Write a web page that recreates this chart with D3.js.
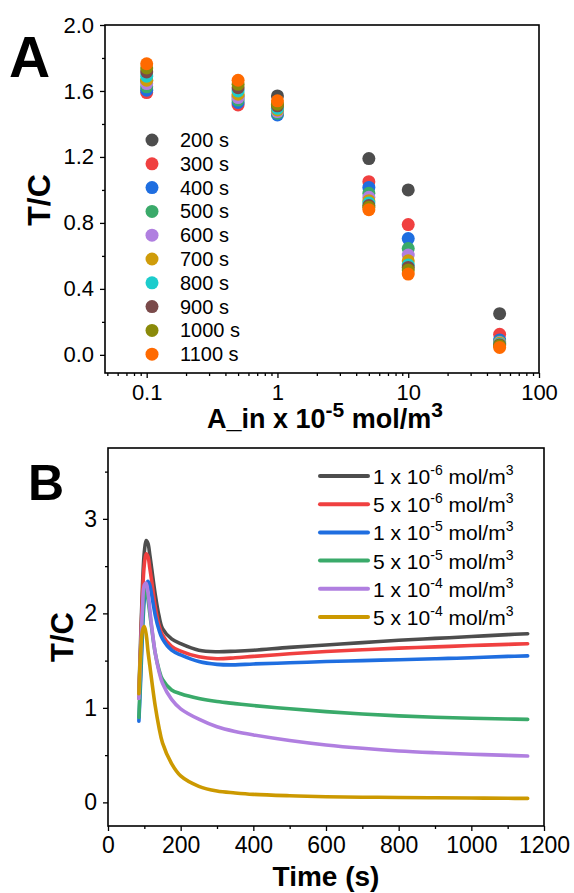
<!DOCTYPE html>
<html>
<head>
<meta charset="utf-8">
<script src="https://cdn.jsdelivr.net/npm/d3@7"></script>
<style>
  body { margin: 0; background: #fff; }
  svg { display: block; font-family: "Liberation Sans", Arial, sans-serif; }
</style>
</head>
<body>
<svg id="fig" width="574" height="893"></svg>
<script>
// ---- panel A data: T/C vs inlet concentration, one series per time ----
var concA = [0.1, 0.5, 1, 5, 10, 50];
var timesA = ["200 s", "300 s", "400 s", "500 s", "600 s", "700 s", "800 s", "900 s", "1000 s", "1100 s"];
var colorsA = ["#4d4d4d", "#f04040", "#1f6ee0", "#3aaa6a", "#b07fe0", "#cf9c0a", "#1ccccc", "#7a4a4a", "#8a8a0a", "#ff6a00"];
var tc200 = [1.66, 1.57, 1.57, 1.19, 1.00, 0.25];
var tc300 = [1.59, 1.515, 1.48, 1.05, 0.79, 0.125];
var tc400 = [1.605, 1.53, 1.455, 1.015, 0.705, 0.09];
var tc500 = [1.625, 1.545, 1.465, 0.98, 0.645, 0.08];
var tc600 = [1.645, 1.56, 1.475, 0.955, 0.605, 0.075];
var tc700 = [1.665, 1.58, 1.485, 0.935, 0.57, 0.07];
var tc800 = [1.69, 1.60, 1.495, 0.92, 0.545, 0.065];
var tc900 = [1.715, 1.62, 1.51, 0.905, 0.53, 0.06];
var tc1000 = [1.74, 1.64, 1.52, 0.895, 0.515, 0.055];
var tc1100 = [1.765, 1.665, 1.54, 0.88, 0.49, 0.045];
var seriesA = [tc200, tc300, tc400, tc500, tc600, tc700, tc800, tc900, tc1000, tc1100];

// ---- panel B data: T/C vs time, one curve per concentration ----
var timeB = [85, 90, 95, 100, 105, 110, 115, 120, 130, 140, 150, 175, 200, 250, 300, 350, 400, 500, 600, 700, 800, 900, 1000, 1100, 1155];
var labelsB = [["1", "-6"], ["5", "-6"], ["1", "-5"], ["5", "-5"], ["1", "-4"], ["5", "-4"]];
var colorsB = ["#4d4d4d", "#f04040", "#1f6ee0", "#3aaa6a", "#b07fe0", "#cc9900"];
var c1e6 = [1.15, 1.75, 2.3, 2.65, 2.77, 2.74, 2.62, 2.48, 2.2, 1.98, 1.84, 1.73, 1.68, 1.61, 1.594, 1.6, 1.61, 1.64, 1.665, 1.69, 1.715, 1.735, 1.755, 1.775, 1.785];
var c5e6 = [1.1, 1.65, 2.2, 2.52, 2.63, 2.6, 2.48, 2.35, 2.07, 1.88, 1.77, 1.65, 1.6, 1.54, 1.52, 1.53, 1.545, 1.572, 1.597, 1.615, 1.632, 1.645, 1.66, 1.672, 1.678];
var c1e5 = [0.86, 1.3, 1.8, 2.15, 2.3, 2.34, 2.3, 2.2, 1.98, 1.83, 1.73, 1.61, 1.56, 1.49, 1.46, 1.455, 1.465, 1.477, 1.49, 1.5, 1.51, 1.52, 1.53, 1.545, 1.55];
var c5e5 = [0.9, 1.4, 1.9, 2.2, 2.25, 2.15, 2.0, 1.85, 1.58, 1.41, 1.3, 1.19, 1.15, 1.1, 1.067, 1.045, 1.025, 0.99, 0.96, 0.935, 0.915, 0.9, 0.89, 0.882, 0.878];
var c1e4 = [1.1, 1.6, 2.05, 2.3, 2.32, 2.22, 2.05, 1.87, 1.58, 1.39, 1.26, 1.09, 0.99, 0.88, 0.8, 0.75, 0.714, 0.655, 0.608, 0.572, 0.544, 0.525, 0.51, 0.497, 0.49];
var c5e4 = [1.15, 1.6, 1.82, 1.86, 1.78, 1.6, 1.45, 1.3, 1.02, 0.8, 0.63, 0.41, 0.28, 0.17, 0.12, 0.1, 0.085, 0.07, 0.06, 0.055, 0.052, 0.049, 0.046, 0.043, 0.042];
var seriesB = [c1e6, c5e6, c1e5, c5e5, c1e4, c5e4];

var svg = d3.select("#fig");

function frame(g, x0, y0, x1, y1) {
  g.append("rect")
    .attr("x", x0).attr("y", y0)
    .attr("width", x1 - x0).attr("height", y1 - y0)
    .attr("fill", "none").attr("stroke", "#000").attr("stroke-width", 1.6);
}

function styleAxis(sel, size) {
  sel.select(".domain").remove();
  sel.selectAll(".tick line").attr("stroke", "#000").attr("stroke-width", 1.3);
  sel.selectAll(".tick text").attr("fill", "#000").attr("font-size", size + "px")
    .attr("font-family", "Liberation Sans, Arial, sans-serif");
}

// ================= Panel A =================
var xA = d3.scaleLog().domain([0.048, 100]).range([105, 539]);
var yA = d3.scaleLinear().domain([-0.11, 2.0]).range([373, 25]);

var gA = svg.append("g");

var minorA = [];
[0.01, 0.1, 1, 10].forEach(function(dec) {
  for (var k = 2; k <= 9; k++) {
    var v = dec * k;
    if (v > 0.048 && v < 100) minorA.push(v);
  }
});

gA.append("g").attr("transform", "translate(0,373)")
  .call(d3.axisBottom(xA).tickValues(minorA).tickSize(3).tickFormat(""))
  .call(function(s) { styleAxis(s, 22); });
gA.append("g").attr("transform", "translate(0,373)")
  .call(d3.axisBottom(xA).tickValues([0.1, 1, 10, 100]).tickSize(5).tickPadding(6)
    .tickFormat(function(d) { return String(d); }))
  .call(function(s) { styleAxis(s, 22); });

gA.append("g").attr("transform", "translate(105,0)")
  .call(d3.axisLeft(yA).tickValues([0.2, 0.6, 1.0, 1.4, 1.8]).tickSize(3).tickFormat(""))
  .call(function(s) { styleAxis(s, 22); });
gA.append("g").attr("transform", "translate(105,0)")
  .call(d3.axisLeft(yA).tickValues([0, 0.4, 0.8, 1.2, 1.6, 2.0]).tickSize(5).tickPadding(6)
    .tickFormat(d3.format(".1f")))
  .call(function(s) { styleAxis(s, 22); });

frame(gA, 105, 25, 539, 373);

seriesA.forEach(function(vals, i) {
  gA.append("g").selectAll("circle")
    .data(vals.map(function(v, j) { return [concA[j], v]; }))
    .join("circle")
    .attr("cx", function(d) { return xA(d[0]); })
    .attr("cy", function(d) { return yA(d[1]); })
    .attr("r", 6.5)
    .attr("fill", colorsA[i]);
});

// legend A
var legA = gA.append("g");
timesA.forEach(function(t, i) {
  var yy = 140 + i * 23.8;
  legA.append("circle").attr("cx", 152).attr("cy", yy).attr("r", 6.5).attr("fill", colorsA[i]);
  legA.append("text").attr("x", 180).attr("y", yy + 7).attr("font-size", "20px").text(t);
});

gA.append("text").attr("x", 9).attr("y", 77).attr("font-size", "57px").attr("font-weight", "bold").text("A");

gA.append("text")
  .attr("transform", "translate(50,200) rotate(-90)")
  .attr("text-anchor", "middle").attr("font-size", "32px").attr("font-weight", "bold")
  .text("T/C");

var xtA = gA.append("text").attr("x", 325).attr("y", 428).attr("text-anchor", "middle")
  .attr("font-size", "27px").attr("font-weight", "bold");
xtA.append("tspan").text("A_in x 10");
xtA.append("tspan").attr("dy", -11).attr("font-size", "21px").text("-5");
xtA.append("tspan").attr("dy", 11).text(" mol/m");
xtA.append("tspan").attr("dy", -11).attr("font-size", "21px").text("3");

// ================= Panel B =================
var xB = d3.scaleLinear().domain([0, 1200]).range([108, 544]);
var yB = d3.scaleLinear().domain([-0.25, 3.75]).range([826, 448]);

var gB = svg.append("g");

gB.append("g").attr("transform", "translate(0,826)")
  .call(d3.axisBottom(xB).tickValues(d3.range(100, 1200, 200)).tickSize(3).tickFormat(""))
  .call(function(s) { styleAxis(s, 23); });
gB.append("g").attr("transform", "translate(0,826)")
  .call(d3.axisBottom(xB).tickValues(d3.range(0, 1201, 200)).tickSize(5).tickPadding(6)
    .tickFormat(d3.format("d")))
  .call(function(s) { styleAxis(s, 23); });
gB.append("g").attr("transform", "translate(108,0)")
  .call(d3.axisLeft(yB).tickValues([0.5, 1.5, 2.5, 3.5]).tickSize(3).tickFormat(""))
  .call(function(s) { styleAxis(s, 23); });
gB.append("g").attr("transform", "translate(108,0)")
  .call(d3.axisLeft(yB).tickValues([0, 1, 2, 3]).tickSize(5).tickPadding(6)
    .tickFormat(d3.format("d")))
  .call(function(s) { styleAxis(s, 23); });

frame(gB, 108, 448, 544, 826);

var line = d3.line()
  .x(function(d) { return xB(d[0]); })
  .y(function(d) { return yB(d[1]); })
  .curve(d3.curveCatmullRom.alpha(0.5));

seriesB.forEach(function(vals, i) {
  gB.append("path")
    .datum(vals.map(function(v, j) { return [timeB[j], v]; }))
    .attr("d", line)
    .attr("fill", "none")
    .attr("stroke", colorsB[i])
    .attr("stroke-width", 3.6)
    .attr("stroke-linecap", "round")
    .attr("stroke-linejoin", "round");
});

// legend B
var legB = gB.append("g");
labelsB.forEach(function(lb, i) {
  var yy = 476 + i * 28.2;
  legB.append("line").attr("x1", 320).attr("x2", 368).attr("y1", yy).attr("y2", yy)
    .attr("stroke", colorsB[i]).attr("stroke-width", 4).attr("stroke-linecap", "round");
  var t = legB.append("text").attr("x", 373).attr("y", yy + 8).attr("font-size", "21px");
  t.append("tspan").text(lb[0] + " x 10");
  t.append("tspan").attr("dy", -9).attr("font-size", "14px").text(lb[1]);
  t.append("tspan").attr("dy", 9).text(" mol/m");
  t.append("tspan").attr("dy", -9).attr("font-size", "14px").text("3");
});

gB.append("text").attr("x", 28).attr("y", 500).attr("font-size", "50px").attr("font-weight", "bold").text("B");

gB.append("text")
  .attr("transform", "translate(73,637) rotate(-90)")
  .attr("text-anchor", "middle").attr("font-size", "31px").attr("font-weight", "bold")
  .text("T/C");

gB.append("text").attr("x", 326).attr("y", 886).attr("text-anchor", "middle")
  .attr("font-size", "28px").attr("font-weight", "bold").text("Time (s)");
</script>
</body>
</html>
